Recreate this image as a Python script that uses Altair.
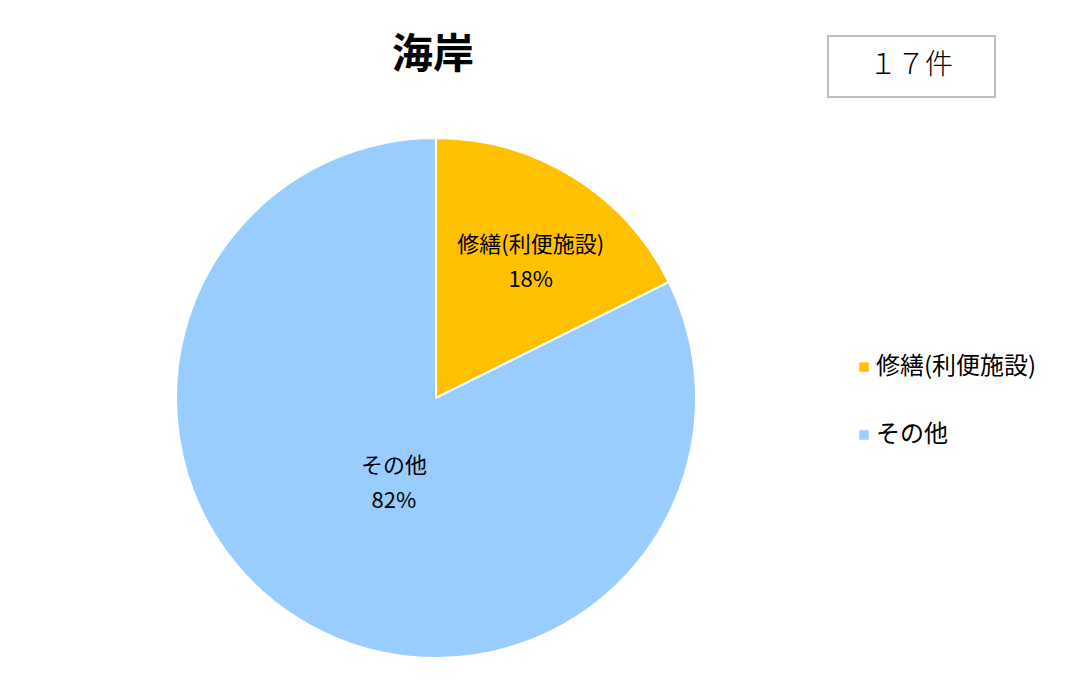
import altair as alt
import pandas as pd

categories = ["修繕(利便施設)", "その他"]
counts = [3, 14]
percents = ["18%", "82%"]
colors = ["#FFC000", "#99CCFF"]
title_text = "海岸"
total_text = "１７件"

df = pd.DataFrame({
    "cat": categories,
    "n": counts,
    "pct": percents,
    "ord": [0, 1],
    "lab_r": [180, 80],
})

FONT = "Noto Sans CJK JP"
CX, CY, R = 428, 390, 260

pie = alt.Chart(df).mark_arc(outerRadius=R, stroke="white", strokeWidth=2).encode(
    theta=alt.Theta("n:Q", stack=True),
    order=alt.Order("ord:Q"),
    x=alt.value(CX), y=alt.value(CY),
    color=alt.Color(
        "cat:N",
        scale=alt.Scale(domain=categories, range=colors),
        legend=alt.Legend(
            title=None, orient="none", legendX=844, legendY=347,
            symbolType="square", symbolSize=90, symbolStrokeWidth=0,
            labelFont=FONT, labelFontSize=24, labelColor="#000000",
            rowPadding=44, labelOffset=0, labelLimit=400,
        ),
    ),
)

labels = alt.Chart(df).transform_window(
    cum="sum(n)", sort=[alt.SortField("ord")]
).transform_calculate(
    mid="datum.cum - datum.n / 2",
    lbl="[datum.cat, datum.pct]",
).mark_text(font=FONT, fontSize=22, color="#000000", lineHeight=35, baseline="middle").encode(
    theta=alt.Theta("mid:Q", stack=None),
    x=alt.value(CX), y=alt.value(CY),
    radius=alt.Radius("lab_r:Q", scale=None),
    text=alt.Text("lbl:N"),
)

title = alt.Chart(pd.DataFrame({"t": [title_text]})).mark_text(
    font=FONT, fontSize=41, fontWeight="bold", color="#000000"
).encode(x=alt.value(425), y=alt.value(48), text="t:N")

box = alt.Chart(pd.DataFrame({"t": [total_text]})).mark_rect(
    fill="white", stroke="#BFBFBF", strokeWidth=2
).encode(x=alt.value(820), x2=alt.value(987), y=alt.value(28), y2=alt.value(89))

box_text = alt.Chart(pd.DataFrame({"t": [total_text]})).mark_text(
    font=FONT, fontSize=28, fontWeight=300, color="#000000"
).encode(x=alt.value(903), y=alt.value(58), text="t:N")

chart = alt.layer(pie, labels, title, box, box_text).properties(
    width=1053, height=678,
    autosize=alt.AutoSizeParams(type="none"),
    padding=0,
).configure_view(stroke=None)

chart.save("out.html", embed_options={"renderer": "svg", "actions": False})
